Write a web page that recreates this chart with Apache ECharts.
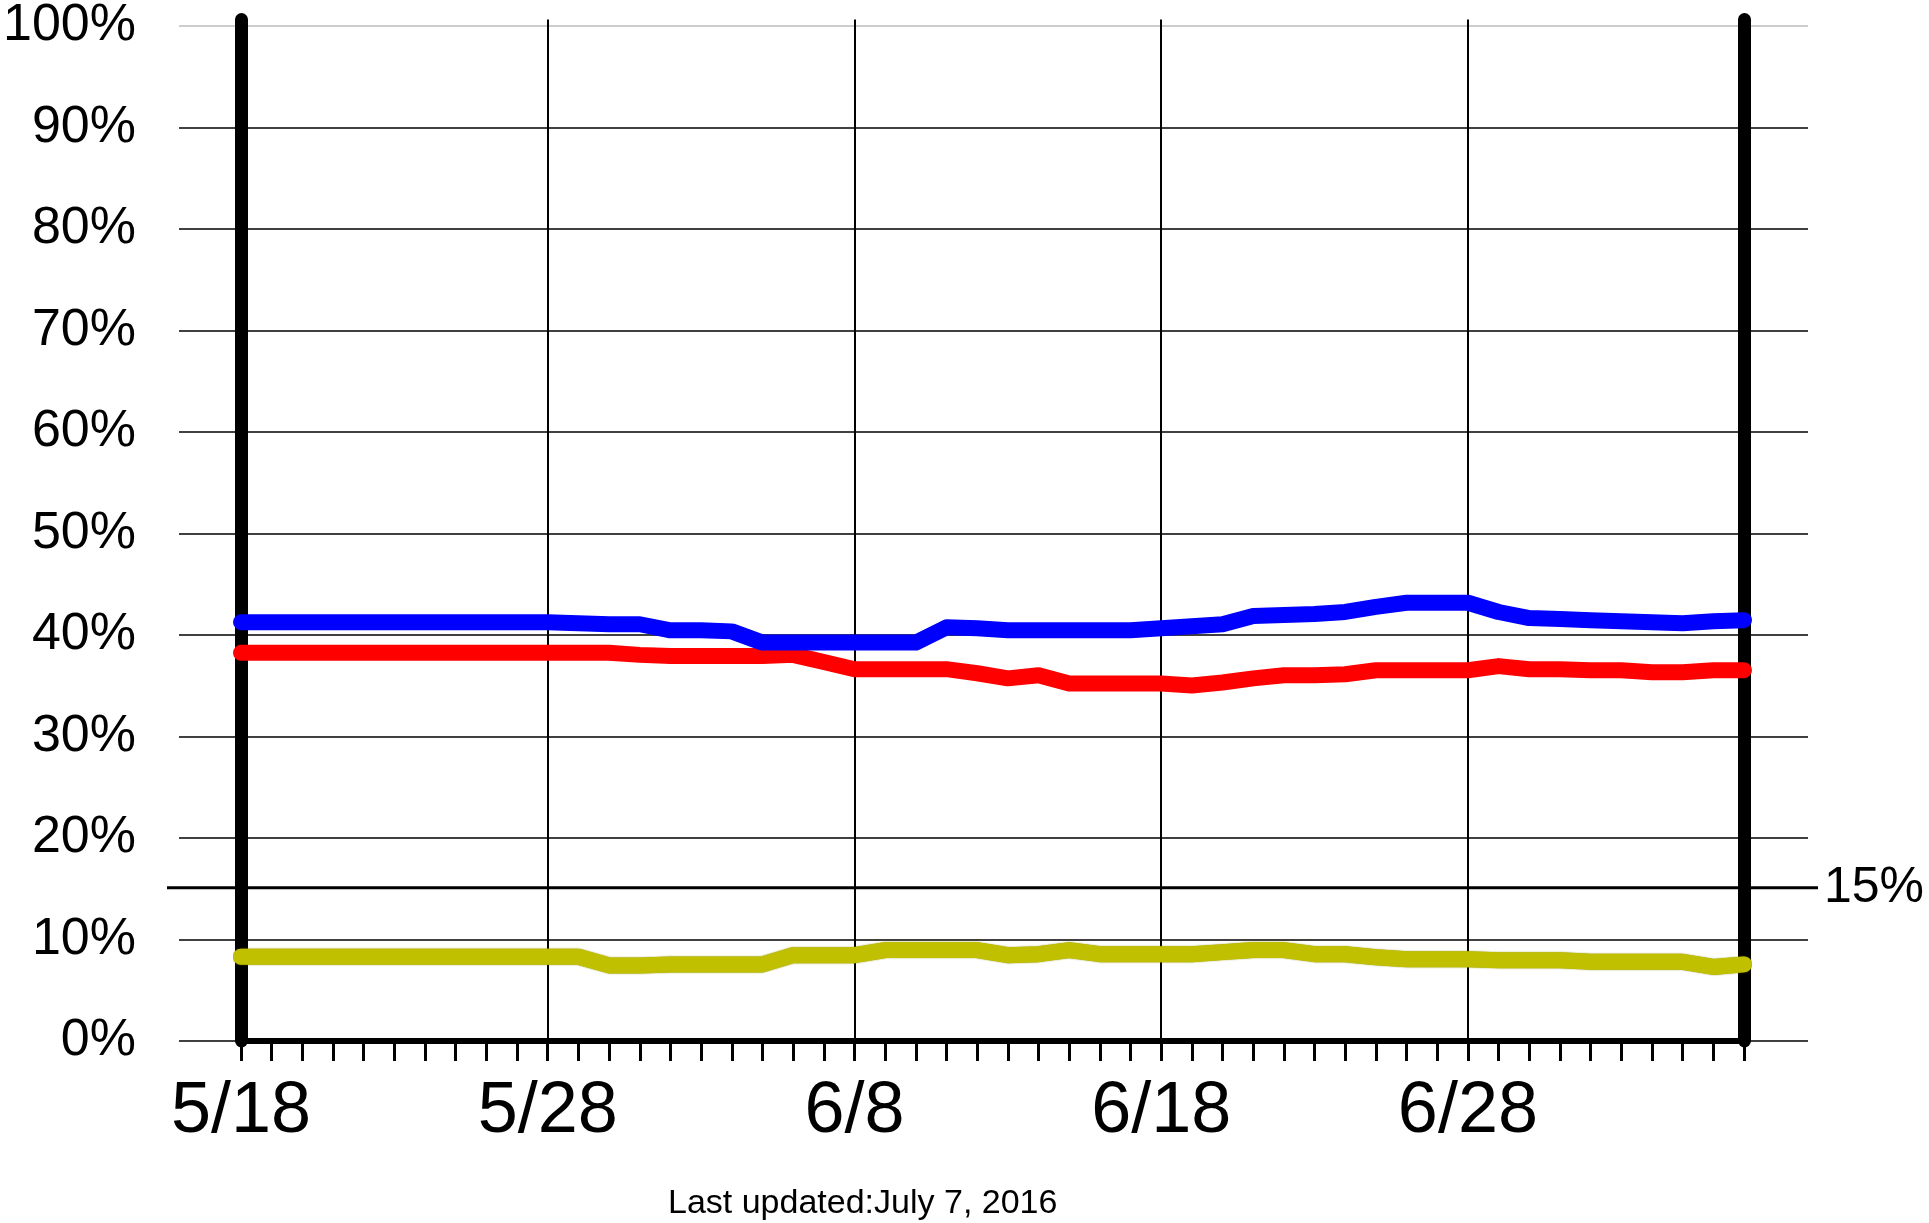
<!DOCTYPE html>
<html>
<head>
<meta charset="utf-8">
<script src="https://cdn.jsdelivr.net/npm/echarts@6/dist/echarts.min.js"></script>
<style>
html,body{margin:0;padding:0;background:#fff;}
#chart{width:1929px;height:1223px;}
</style>
</head>
<body>
<div id="chart"></div>
<script>
// ---- data ----
const tickLabels = ['5/18', '5/28', '6/8', '6/18', '6/28'];
const yTickValues = [0, 10, 20, 30, 40, 50, 60, 70, 80, 90, 100];

const blue = [41.0, 41.0, 41.0, 41.0, 41.0, 41.0, 41.0, 41.0, 41.0, 41.0,
              41.0, 40.9, 40.8, 40.8, 40.2, 40.2, 40.1, 39.0, 39.0, 39.0,
              39.0, 39.0, 39.0, 40.5, 40.4, 40.2, 40.2, 40.2, 40.2, 40.2,
              40.4, 40.6, 40.8, 41.6, 41.7, 41.8, 42.0, 42.5, 42.9, 42.9,
              42.9, 42.0, 41.4, 41.3, 41.2, 41.1, 41.0, 40.9, 41.1, 41.2];

const red = [38.0, 38.0, 38.0, 38.0, 38.0, 38.0, 38.0, 38.0, 38.0, 38.0,
             38.0, 38.0, 38.0, 37.8, 37.7, 37.7, 37.7, 37.7, 37.8, 37.1,
             36.4, 36.4, 36.4, 36.4, 36.0, 35.5, 35.8, 35.0, 35.0, 35.0,
             35.0, 34.8, 35.1, 35.5, 35.8, 35.8, 35.9, 36.3, 36.3, 36.3,
             36.3, 36.7, 36.4, 36.4, 36.3, 36.3, 36.1, 36.1, 36.3, 36.3];

const yellow = [8.25, 8.25, 8.25, 8.25, 8.25, 8.25, 8.25, 8.25, 8.25, 8.25,
                8.25, 8.25, 7.4, 7.4, 7.5, 7.5, 7.5, 7.5, 8.4, 8.4,
                8.4, 8.9, 8.9, 8.9, 8.9, 8.4, 8.5, 8.9, 8.5, 8.5,
                8.5, 8.5, 8.7, 8.9, 8.9, 8.5, 8.5, 8.2, 8.0, 8.0,
                8.0, 7.9, 7.9, 7.9, 7.75, 7.75, 7.75, 7.75, 7.25, 7.5];

const threshold = 15;
const thresholdLabel = '15%';
const footnote = 'Last updated:July 7, 2016';

// category axis: one slot per day, labelled every 10th slot
const categories = blue.map((_, i) => (i % 10 === 0 ? tickLabels[i / 10] : ''));

const FONT = '"Liberation Sans", Arial, Helvetica, sans-serif';
const splitColors = yTickValues.map(v => (v === 100 ? '#bdbdbd' : '#000000'));

const chart = echarts.init(document.getElementById('chart'), null, {renderer: 'canvas'});

const lineSeries = (name, data, color, z, border) => ({
  name: name,
  type: 'line',
  xAxisIndex: 1,
  yAxisIndex: 1,
  data: data,
  symbol: 'none',
  smooth: false,
  z: z,
  lineStyle: border
    ? {color: color, width: 16, cap: 'round', join: 'round', shadowColor: border, shadowBlur: 1.5}
    : {color: color, width: 16, cap: 'round', join: 'round'},
  emphasis: {disabled: true}
});

chart.setOption({
  animation: false,
  backgroundColor: '#ffffff',
  title: {
    text: footnote,
    left: 668,
    top: 1187,
    padding: 0,
    textStyle: {fontFamily: FONT, fontSize: 34, fontWeight: 'normal', color: '#000'}
  },
  grid: [
    {left: 176, right: 121, top: 19.5, bottom: 182},  // background gridlines + y labels
    {left: 241, right: 185, top: 19.5, bottom: 182},  // data area
    {left: 167, right: 111, top: 19.5, bottom: 182}   // 15% threshold line
  ],
  xAxis: [
    {gridIndex: 0, type: 'value', min: 0, max: 1, show: false},
    {
      gridIndex: 1,
      type: 'category',
      data: categories,
      boundaryGap: false,
      axisLine: {show: true, onZero: false, lineStyle: {color: '#000', width: 6}},
      axisTick: {show: true, interval: 0, length: 20, lineStyle: {color: '#000', width: 3}},
      axisLabel: {
        show: true,
        interval: (i) => i % 10 === 0,
        fontFamily: FONT,
        fontSize: 72,
        color: '#000',
        margin: 35
      },
      splitLine: {show: true, interval: (i) => i % 10 === 0, lineStyle: {color: '#000', width: 2}}
    },
    {gridIndex: 2, type: 'value', min: 0, max: 1, show: false}
  ],
  yAxis: [
    {
      gridIndex: 0,
      type: 'value',
      min: 0, max: 100, interval: 10,
      axisLine: {show: false},
      axisTick: {show: false},
      axisLabel: {formatter: '{value}%', fontFamily: FONT, fontSize: 52, color: '#000', margin: 43},
      splitLine: {show: true, lineStyle: {color: splitColors, width: 1.5}}
    },
    {
      gridIndex: 1, type: 'value', min: 0, max: 100, position: 'left',
      axisLine: {show: true, lineStyle: {color: '#000', width: 13, cap: 'round'}},
      axisTick: {show: false}, axisLabel: {show: false}, splitLine: {show: false}
    },
    {
      gridIndex: 1, type: 'value', min: 0, max: 100, position: 'right',
      axisLine: {show: true, lineStyle: {color: '#000', width: 13, cap: 'round'}},
      axisTick: {show: false}, axisLabel: {show: false}, splitLine: {show: false}
    },
    {gridIndex: 2, type: 'value', min: 0, max: 100, show: false}
  ],
  series: [
    {type: 'line', xAxisIndex: 0, yAxisIndex: 0, data: [], symbol: 'none', silent: true},
    {
      name: 'threshold',
      type: 'line',
      xAxisIndex: 2,
      yAxisIndex: 3,
      data: [[0, threshold], [1, threshold]],
      symbol: 'none',
      z: 5,
      silent: true,
      lineStyle: {color: '#000', width: 3},
      endLabel: {show: true, formatter: thresholdLabel, fontFamily: FONT, fontSize: 50, color: '#000', distance: 6}
    },
    lineSeries('yellow', yellow, '#c0c000', 3, '#8a8a00'),
    lineSeries('red', red, '#ff0000', 3),
    lineSeries('blue', blue, '#0000ff', 4)
  ]
});
</script>
</body>
</html>
